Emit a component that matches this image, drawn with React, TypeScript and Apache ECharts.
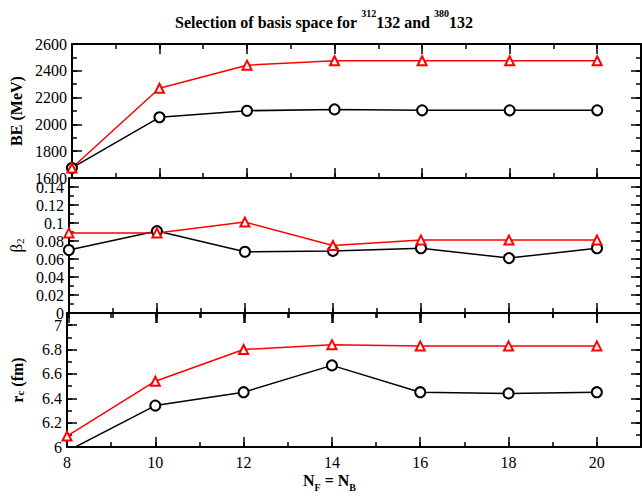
import React, { useEffect, useRef } from "react";
import * as echarts from "echarts";

const nValues = [8, 10, 12, 14, 16, 18, 20];
const beBlack = [1675, 2053, 2102, 2112, 2105, 2105, 2105];
const beRed = [1675, 2270, 2442, 2475, 2475, 2475, 2475];
const beta2Black = [0.07, 0.091, 0.068, 0.069, 0.072, 0.061, 0.072];
const beta2Red = [0.089, 0.089, 0.101, 0.075, 0.081, 0.081, 0.081];
const rcBlack = [5.965, 6.34, 6.45, 6.67, 6.45, 6.44, 6.45];
const rcRed = [6.09, 6.54, 6.8, 6.84, 6.83, 6.83, 6.83];

const FONT = "Liberation Serif";

const pairs = (ys: number[]) => nValues.map((x, i) => [x, ys[i]]);
const fmt = (v: number) => String(Math.round(v * 1000) / 1000);

function xAxes(gridIndex: number, showLabels: boolean) {
  const base = {
    type: "value",
    gridIndex,
    min: 8,
    max: 21,
    splitLine: { show: false },
  };
  return [
    {
      ...base,
      position: "bottom",
      interval: 2,
      axisLine: { show: true, lineStyle: { color: "#000", width: 2 } },
      axisTick: { show: true, inside: true, length: 10, lineStyle: { color: "#000", width: 1.5 } },
      axisLabel: {
        show: showLabels,
        showMaxLabel: false,
        margin: 7,
        fontFamily: FONT,
        fontSize: 16,
        color: "#000",
        formatter: fmt,
      },
    },
    {
      ...base,
      position: "bottom",
      interval: 1,
      axisLine: { show: false },
      axisTick: { show: true, inside: true, length: 5, lineStyle: { color: "#000", width: 1.5 } },
      axisLabel: { show: false },
    },
    {
      ...base,
      position: "top",
      interval: 2,
      axisLine: { show: true, lineStyle: { color: "#000", width: 2 } },
      axisTick: { show: true, inside: true, length: 10, lineStyle: { color: "#000", width: 1.5 } },
      axisLabel: { show: false },
    },
    {
      ...base,
      position: "top",
      interval: 1,
      axisLine: { show: false },
      axisTick: { show: true, inside: true, length: 5, lineStyle: { color: "#000", width: 1.5 } },
      axisLabel: { show: false },
    },
  ];
}

function yAxes(
  gridIndex: number,
  min: number,
  max: number,
  major: number,
  minor: number,
  name: string,
  rich: any,
  showMax: boolean
) {
  const base = { type: "value", gridIndex, min, max, splitLine: { show: false } };
  return [
    {
      ...base,
      position: "left",
      interval: major,
      name,
      nameLocation: "middle",
      nameRotate: 90,
      nameGap: 42,
      nameTextStyle: { fontFamily: FONT, color: "#000", rich },
      axisLine: { show: true, lineStyle: { color: "#000", width: 2 } },
      axisTick: { show: true, inside: true, length: 10, lineStyle: { color: "#000", width: 1.5 } },
      axisLabel: {
        show: true,
        showMaxLabel: showMax,
        showMinLabel: true,
        margin: 5,
        fontFamily: FONT,
        fontSize: 16,
        color: "#000",
        formatter: fmt,
      },
    },
    {
      ...base,
      position: "left",
      interval: minor,
      axisLine: { show: false },
      axisTick: { show: true, inside: true, length: 5, lineStyle: { color: "#000", width: 1.5 } },
      axisLabel: { show: false },
    },
    {
      ...base,
      position: "right",
      interval: major,
      axisLine: { show: true, lineStyle: { color: "#000", width: 2 } },
      axisTick: { show: true, inside: true, length: 10, lineStyle: { color: "#000", width: 1.5 } },
      axisLabel: { show: false },
    },
    {
      ...base,
      position: "right",
      interval: minor,
      axisLine: { show: false },
      axisTick: { show: true, inside: true, length: 5, lineStyle: { color: "#000", width: 1.5 } },
      axisLabel: { show: false },
    },
  ];
}

function seriesPair(gridIndex: number, black: number[], red: number[]) {
  const common = {
    type: "line",
    xAxisIndex: gridIndex * 4,
    yAxisIndex: gridIndex * 4,
    clip: true,
  };
  return [
    {
      ...common,
      data: pairs(black),
      symbol: "emptyCircle",
      symbolSize: 10,
      lineStyle: { color: "#000", width: 1.5 },
      itemStyle: { color: "#000", borderColor: "#000", borderWidth: 1.5 },
    },
    {
      ...common,
      data: pairs(red),
      symbol: "emptyTriangle",
      symbolSize: 9,
      lineStyle: { color: "#ff0000", width: 1.5 },
      itemStyle: { color: "#ff0000", borderColor: "#ff0000", borderWidth: 1.5 },
    },
  ];
}

export default function App() {
  const ref = useRef<HTMLDivElement>(null);
  useEffect(() => {
    if (!ref.current) return;
    const chart = echarts.init(ref.current, null, { renderer: "svg" });
    const boldName = {
      b: { fontFamily: FONT, fontSize: 16, fontWeight: "bold", color: "#000" },
      s: { fontFamily: FONT, fontSize: 11, fontWeight: "bold", color: "#000", verticalAlign: "bottom" },
      g: { fontFamily: FONT, fontSize: 17, color: "#000" },
      gs: { fontFamily: FONT, fontSize: 11, color: "#000", verticalAlign: "bottom" },
    };
    chart.setOption({
      animation: false,
      backgroundColor: "#fff",
      grid: [
        { left: 67, right: 1, top: 44, height: 134 },
        { left: 67, right: 1, top: 178, height: 135 },
        { left: 67, right: 1, top: 313, height: 134 },
      ],
      xAxis: [...xAxes(0, false), ...xAxes(1, false), ...xAxes(2, true)],
      yAxis: [
        ...yAxes(0, 1600, 2600, 200, 100, "{b|BE (MeV)}", boldName, true),
        ...yAxes(1, 0, 0.15, 0.02, 0.01, "{g|β}{gs|2}", boldName, false),
        ...yAxes(2, 6, 7.1, 0.2, 0.1, "{b|r}{s|c}{b| (fm)}", boldName, false),
      ],
      series: [
        ...seriesPair(0, beBlack, beRed),
        ...seriesPair(1, beta2Black, beta2Red),
        ...seriesPair(2, rcBlack, rcRed),
      ],
      graphic: [
        {
          type: "text",
          left: 175,
          top: 8,
          style: {
            text: "{t|Selection of basis space for }{s|312}{t|132 and }{s|380}{t|132}",
            rich: {
              t: { fontFamily: FONT, fontSize: 16, fontWeight: "bold", fill: "#000", lineHeight: 22, verticalAlign: "bottom" },
              s: { fontFamily: FONT, fontSize: 10, fontWeight: "bold", fill: "#000", lineHeight: 22, verticalAlign: "top" },
            },
          },
        },
        {
          type: "text",
          left: 303,
          top: 472,
          style: {
            text: "{b|N}{s|F}{b| = N}{s|B}",
            rich: {
              b: { fontFamily: FONT, fontSize: 16, fontWeight: "bold", fill: "#000", lineHeight: 20, verticalAlign: "top" },
              s: { fontFamily: FONT, fontSize: 10, fontWeight: "bold", fill: "#000", lineHeight: 20, verticalAlign: "bottom" },
            },
          },
        },
      ],
    });
    return () => chart.dispose();
  }, []);
  return (
    <div
      ref={ref}
      style={{ position: "fixed", left: 0, top: 0, width: 642, height: 496, background: "#fff" }}
    />
  );
}
